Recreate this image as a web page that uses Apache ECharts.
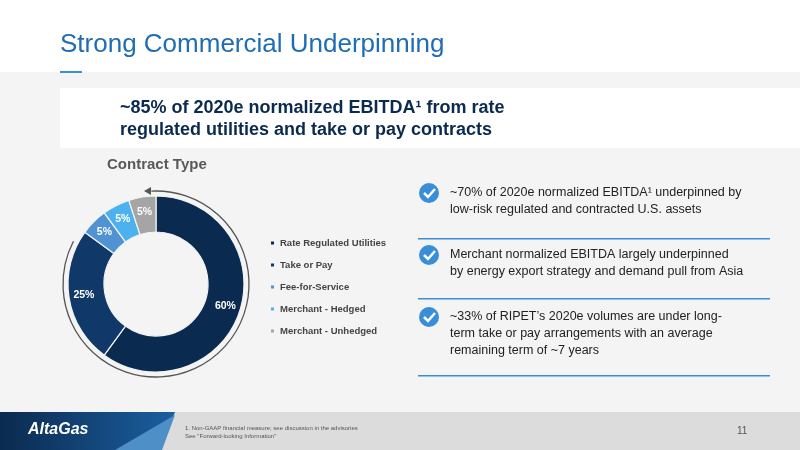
<!DOCTYPE html>
<html><head><meta charset="utf-8">
<script src="https://cdn.jsdelivr.net/npm/echarts@6/dist/echarts.min.js"></script>
<style>html,body{margin:0;padding:0;background:#f4f4f4}#c{width:800px;height:450px}</style>
</head><body><div id="c"></div>
<script>
const categories = ['Rate Regulated Utilities','Take or Pay','Fee-for-Service','Merchant - Hedged','Merchant - Unhedged'];
const values = [60,25,5,5,5];
const colors = ['#0b2a4f','#10396a','#4f93d3','#4cb2ef','#a5a5a5'];
const bullets = [
  ['~70% of 2020e normalized EBITDA¹ underpinned by','low-risk regulated and contracted U.S. assets'],
  ['Merchant normalized EBITDA largely underpinned','by energy export strategy and demand pull from Asia'],
  ['~33% of RIPET’s 2020e volumes are under long-','term take or pay arrangements with an average','remaining term of ~7 years']
];
const chart = echarts.init(document.getElementById('c'));
const F = 'Liberation Sans, Arial, sans-serif';
const cx=156, cy=284, R=88;
const g = [
  {type:'rect',shape:{x:0,y:0,width:800,height:72},style:{fill:'#ffffff'},z:-1},
  {type:'text',left:60,top:32,style:{text:'Strong Commercial Underpinning',fill:'#1f6db4',font:'26px '+F}},
  {type:'rect',shape:{x:60,y:71,width:22,height:2},style:{fill:'#3d8fd6'}},
  {type:'rect',shape:{x:60,y:88,width:740,height:60},style:{fill:'#ffffff'},z:-1},
  {type:'text',left:120,top:97,style:{text:'~85% of 2020e normalized EBITDA¹ from rate\nregulated utilities and take or pay contracts',fill:'#0b2a4f',font:'bold 18px '+F,lineHeight:22}},
  {type:'text',left:107,top:157,style:{text:'Contract Type',fill:'#595959',font:'bold 15px '+F}},
  {type:'arc',shape:{cx:cx,cy:cy,r:R+5,startAngle:-Math.PI/2-0.05,endAngle:3.62,clockwise:true},style:{stroke:'#555',lineWidth:1.3,fill:null}},
  {type:'polygon',shape:{points:[[cx-12,cy-R-5],[cx-5,cy-R-9],[cx-5,cy-R-1]]},style:{fill:'#555'}},
  {type:'rect',shape:{x:0,y:412,width:800,height:38},style:{fill:'#dcdcdc'}},
  {type:'polygon',shape:{points:[[0,412],[175,412],[160,450],[0,450]]},style:{fill:new echarts.graphic.LinearGradient(0,0,1,0,[{offset:0,color:'#0b2a4f'},{offset:1,color:'#1b5fa0'}])}},
  {type:'polygon',shape:{points:[[115,450],[175,415],[162,450]]},style:{fill:'#4f8fc8'}},
  {type:'text',left:28,top:422,style:{text:'AltaGas',fill:'#fff',font:'italic bold 16px '+F}},
  {type:'text',left:185,top:424,style:{text:'1. Non-GAAP financial measure; see discussion in the advisories\nSee "Forward-looking Information"',fill:'#555',font:'6px '+F,lineHeight:8}},
  {type:'text',left:737,top:426,style:{text:'11',fill:'#555',font:'10px '+F}}
];
const bTop=[184,246,308];
bullets.forEach((b,i)=>{
  g.push({type:'circle',shape:{cx:429,cy:bTop[i]+9,r:10},style:{fill:'#3a8ed8'}});
  g.push({type:'polyline',shape:{points:[[424,bTop[i]+9],[428,bTop[i]+13],[435,bTop[i]+5]]},style:{stroke:'#fff',lineWidth:2.5,fill:null}});
  g.push({type:'text',left:450,top:bTop[i],style:{text:b.join('\n'),fill:'#222',font:'12.5px '+F,lineHeight:17}});
});
[238,298,375].forEach(y=>g.push({type:'rect',shape:{x:418,y:y,width:352,height:1.5},style:{fill:'#3a8ed8'}}));
chart.setOption({
  animation:false,
  color:colors,
  graphic:g,
  legend:{orient:'vertical',left:264,top:233,itemWidth:5,itemHeight:5,itemGap:12,icon:'rect',
    textStyle:{fontFamily:F,fontSize:9.5,fontWeight:'bold',color:'#444'},data:categories},
  series:[{type:'pie',center:[cx,cy],radius:[52,R],startAngle:90,clockwise:true,
    itemStyle:{borderColor:'#f4f4f4',borderWidth:1.2},
    label:{position:'inside',formatter:'{c}%',color:'#fff',fontFamily:F,fontSize:10.5,fontWeight:'bold'},
    labelLine:{show:false},
    data:categories.map((n,i)=>({name:n,value:values[i]}))}]
});
</script></body></html>
